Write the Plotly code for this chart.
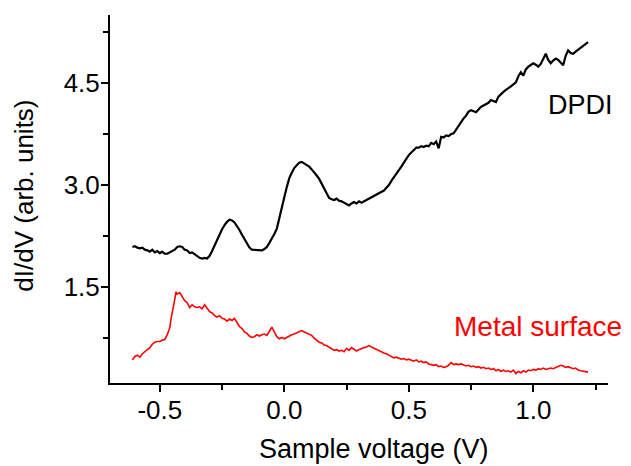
import plotly.graph_objects as go

# ---- data ----
dpdi_v = [-0.61, -0.60, -0.59, -0.58, -0.57, -0.56, -0.55, -0.54, -0.53, -0.52, -0.51, -0.50,
          -0.49, -0.48, -0.47, -0.46, -0.45, -0.44, -0.43, -0.42, -0.41, -0.40, -0.39, -0.38,
          -0.37, -0.36, -0.35, -0.34, -0.33, -0.32, -0.31, -0.30, -0.29, -0.28, -0.27, -0.26,
          -0.25, -0.24, -0.23, -0.22, -0.21, -0.20, -0.19, -0.18, -0.17, -0.16, -0.15, -0.14,
          -0.13, -0.12, -0.11, -0.10, -0.09, -0.08, -0.07, -0.06, -0.05, -0.04, -0.03, -0.02,
          -0.01, 0.00, 0.01, 0.02, 0.03, 0.04, 0.05, 0.06, 0.07,
          0.08, 0.09, 0.10, 0.11, 0.12, 0.13, 0.14, 0.15, 0.16, 0.17, 0.18, 0.19, 0.20,
          0.21, 0.22, 0.23, 0.24, 0.25, 0.26, 0.27, 0.28, 0.29, 0.30, 0.31, 0.32, 0.33,
          0.34, 0.35, 0.36, 0.37, 0.38, 0.39, 0.40, 0.41, 0.42, 0.43, 0.44, 0.45, 0.46,
          0.47, 0.48, 0.49, 0.50, 0.51, 0.52, 0.53, 0.54, 0.55, 0.56, 0.57, 0.58, 0.59,
          0.60, 0.61, 0.62, 0.63, 0.64, 0.65, 0.66, 0.67, 0.68, 0.69, 0.70, 0.71, 0.72,
          0.73, 0.74, 0.75, 0.76, 0.77, 0.78, 0.79, 0.80, 0.81, 0.82, 0.83, 0.84, 0.85,
          0.86, 0.87, 0.88, 0.89, 0.90, 0.91, 0.92, 0.93, 0.94, 0.95, 0.96, 0.97, 0.98,
          0.99, 1.00, 1.01, 1.02, 1.03, 1.04, 1.05, 1.06, 1.07, 1.08, 1.09, 1.10, 1.11,
          1.12, 1.13, 1.14, 1.15, 1.16, 1.17, 1.18, 1.19, 1.20, 1.21, 1.22]
dpdi_y = [2.09, 2.10, 2.08, 2.07, 2.08, 2.05, 2.04, 2.02, 2.05, 2.01, 2.03, 2.00,
          2.02, 1.99, 1.99, 2.01, 2.04, 2.05, 2.09, 2.10, 2.09, 2.05, 2.04, 2.00,
          2.01, 1.98, 1.95, 1.93, 1.92, 1.93, 1.92, 1.96, 2.03, 2.11, 2.20, 2.28,
          2.35, 2.41, 2.46, 2.49, 2.48, 2.45, 2.40, 2.34, 2.27, 2.20, 2.13, 2.08,
          2.05, 2.05, 2.04, 2.05, 2.04, 2.06, 2.09, 2.15, 2.21, 2.28, 2.36, 2.50,
          2.66, 2.82, 2.97, 3.10, 3.18, 3.25, 3.29, 3.33, 3.34,
          3.32, 3.30, 3.27, 3.23, 3.19, 3.14, 3.09, 3.02, 2.94, 2.86, 2.81, 2.79, 2.78,
          2.80, 2.77, 2.76, 2.74, 2.72, 2.70, 2.73, 2.75, 2.73, 2.76, 2.74, 2.76, 2.78,
          2.80, 2.82, 2.83, 2.86, 2.88, 2.90, 2.92, 2.96, 3.00, 3.06, 3.11, 3.16, 3.21,
          3.27, 3.33, 3.39, 3.44, 3.48, 3.52, 3.55, 3.55, 3.57, 3.56, 3.58, 3.57, 3.62,
          3.60, 3.64, 3.54, 3.71, 3.70, 3.73, 3.72, 3.75, 3.76, 3.82, 3.87, 3.92, 3.98,
          4.02, 4.08, 4.10, 4.08, 4.07, 4.11, 4.15, 4.17, 4.19, 4.21, 4.25, 4.24, 4.22,
          4.30, 4.34, 4.37, 4.40, 4.42, 4.45, 4.48, 4.51, 4.60, 4.66, 4.61, 4.70, 4.74,
          4.76, 4.79, 4.77, 4.74, 4.78, 4.85, 4.93, 4.84, 4.79, 4.83, 4.86, 4.84, 4.80,
          4.76, 4.90, 4.98, 4.94, 4.93, 4.96, 4.99, 5.01, 5.04, 5.08, 5.10]

metal_v = [-0.61, -0.60, -0.59, -0.58, -0.57, -0.56, -0.55, -0.54, -0.53, -0.52, -0.51, -0.50,
           -0.49, -0.48, -0.47, -0.46, -0.455, -0.45, -0.44, -0.435, -0.43, -0.42, -0.41, -0.40,
           -0.39, -0.38, -0.37, -0.36, -0.35, -0.34, -0.33, -0.32, -0.31, -0.30, -0.29, -0.28,
           -0.27, -0.26, -0.25, -0.24, -0.23, -0.22, -0.21, -0.20, -0.19, -0.18, -0.17, -0.16,
           -0.15, -0.14, -0.13, -0.12, -0.11, -0.10, -0.09, -0.08, -0.07, -0.06, -0.05, -0.04,
           -0.03, -0.02, -0.01, 0.00, 0.01, 0.02, 0.03, 0.04, 0.05, 0.06, 0.07, 0.08,
           0.09, 0.10, 0.11, 0.12, 0.13, 0.14, 0.15, 0.16, 0.17, 0.18, 0.19, 0.20,
           0.21, 0.22, 0.23, 0.24, 0.25, 0.26, 0.27, 0.28, 0.29, 0.30, 0.31, 0.32,
           0.33, 0.34, 0.35, 0.36, 0.37, 0.38, 0.39, 0.40, 0.41, 0.42, 0.43, 0.44,
           0.45, 0.46, 0.47, 0.48, 0.49, 0.50, 0.51, 0.52, 0.53, 0.54, 0.55, 0.56,
           0.57, 0.58, 0.59, 0.60, 0.61, 0.62, 0.63, 0.64, 0.65, 0.66, 0.67, 0.68,
           0.69, 0.70, 0.71, 0.72, 0.73, 0.74, 0.75, 0.76, 0.77, 0.78, 0.79, 0.80,
           0.81, 0.82, 0.83, 0.84, 0.85, 0.86, 0.87, 0.88, 0.89, 0.90, 0.91, 0.92,
           0.93, 0.94, 0.95, 0.96, 0.97, 0.98, 0.99, 1.00, 1.01, 1.02, 1.03, 1.04,
           1.05, 1.06, 1.07, 1.08, 1.09, 1.10, 1.11, 1.12, 1.13, 1.14, 1.15, 1.16,
           1.17, 1.18, 1.19, 1.20, 1.21, 1.22]
metal_y = [0.43, 0.48, 0.50, 0.47, 0.52, 0.55, 0.59, 0.61, 0.66, 0.69, 0.70, 0.70,
           0.72, 0.73, 0.80, 0.90, 1.03, 1.15, 1.32, 1.43, 1.40, 1.42, 1.36, 1.30,
           1.27, 1.20, 1.24, 1.21, 1.20, 1.21, 1.18, 1.24, 1.19, 1.14, 1.12, 1.08,
           1.06, 1.08, 1.04, 1.03, 1.00, 1.03, 1.01, 1.04, 0.98, 0.92, 0.89, 0.84,
           0.82, 0.78, 0.76, 0.77, 0.80, 0.78, 0.80, 0.81, 0.79, 0.85, 0.91, 0.84,
           0.77, 0.74, 0.76, 0.74, 0.76, 0.79, 0.80, 0.81, 0.83, 0.84, 0.86, 0.84,
           0.82, 0.80, 0.79, 0.75, 0.72, 0.69, 0.68, 0.65, 0.64, 0.62, 0.60, 0.57,
           0.58, 0.56, 0.57, 0.55, 0.60, 0.57, 0.61, 0.59, 0.56, 0.58, 0.60, 0.61,
           0.62, 0.64, 0.62, 0.60, 0.58, 0.56, 0.55, 0.53, 0.52, 0.50, 0.48, 0.46,
           0.47, 0.45, 0.44, 0.45, 0.43, 0.44, 0.42, 0.41, 0.43, 0.40, 0.41, 0.39,
           0.40, 0.37, 0.36, 0.35, 0.36, 0.33, 0.34, 0.32, 0.33, 0.35, 0.39, 0.36,
           0.37, 0.36, 0.37, 0.35, 0.34, 0.35, 0.33, 0.34, 0.32, 0.33, 0.31, 0.32,
           0.30, 0.31, 0.29, 0.30, 0.27, 0.29, 0.26, 0.28, 0.26, 0.27, 0.25, 0.28,
           0.23, 0.26, 0.24, 0.27, 0.25, 0.28, 0.27, 0.29, 0.28, 0.30, 0.29, 0.31,
           0.29, 0.30, 0.31, 0.30, 0.32, 0.33, 0.35, 0.34, 0.32, 0.33, 0.31, 0.30,
           0.31, 0.28, 0.27, 0.26, 0.25, 0.25]

x_tickvals = [-0.5, 0.0, 0.5, 1.0]
x_ticktext = ["-0.5", "0.0", "0.5", "1.0"]
y_tickvals = [1.5, 3.0, 4.5]
y_ticktext = ["1.5", "3.0", "4.5"]

x_title = "Sample voltage (V)"
y_title = "dI/dV (arb. units)"
label_dpdi = "DPDI"
label_metal = "Metal surface"

FONT = "Arial, Liberation Sans, sans-serif"

fig = go.Figure()
fig.add_trace(go.Scatter(x=dpdi_v, y=dpdi_y, mode="lines",
                         line=dict(color="black", width=2.2), showlegend=False))
fig.add_trace(go.Scatter(x=metal_v, y=metal_y, mode="lines",
                         line=dict(color="#ff0000", width=1.6), showlegend=False))

axis_common = dict(showgrid=False, zeroline=False, showline=True, linecolor="black",
                   linewidth=2, ticks="outside", ticklen=7, tickwidth=1.5,
                   tickcolor="black", tickfont=dict(family=FONT, size=26, color="black"))

fig.update_xaxes(range=[-0.7, 1.3], tickvals=x_tickvals, ticktext=x_ticktext,
                 ticklabelstandoff=-4,
                 minor=dict(ticks="outside", dtick=0.25, tick0=0, ticklen=5,
                            tickwidth=1.5, tickcolor="black"),
                 **axis_common)
fig.update_yaxes(range=[0.09, 5.5], tickvals=y_tickvals, ticktext=y_ticktext,
                 ticklabelstandoff=-4,
                 minor=dict(ticks="outside", dtick=0.75, tick0=0, ticklen=5,
                            tickwidth=1.5, tickcolor="black"),
                 **axis_common)

fig.add_annotation(x=0.36, y=-0.178, xref="x", yref="paper", text=x_title,
                   showarrow=False, xanchor="center", yanchor="middle",
                   font=dict(family=FONT, size=27, color="black"))
fig.add_annotation(x=-0.172, y=0.51, xref="paper", yref="paper", text=y_title,
                   showarrow=False, textangle=-90, xanchor="center", yanchor="middle",
                   font=dict(family=FONT, size=26, color="black"))
fig.add_annotation(x=1.19, y=4.17, xref="x", yref="y", text=label_dpdi,
                   showarrow=False, xanchor="center", yanchor="middle",
                   font=dict(family=FONT, size=27, color="black"))
fig.add_annotation(x=1.02, y=0.92, xref="x", yref="y", text=label_metal,
                   showarrow=False, xanchor="center", yanchor="middle",
                   font=dict(family=FONT, size=28, color="#ff0000"))

fig.update_layout(width=631, height=466, margin=dict(l=110, r=23, t=15, b=83),
                  plot_bgcolor="white", paper_bgcolor="white")

fig.write_html("out.html")
